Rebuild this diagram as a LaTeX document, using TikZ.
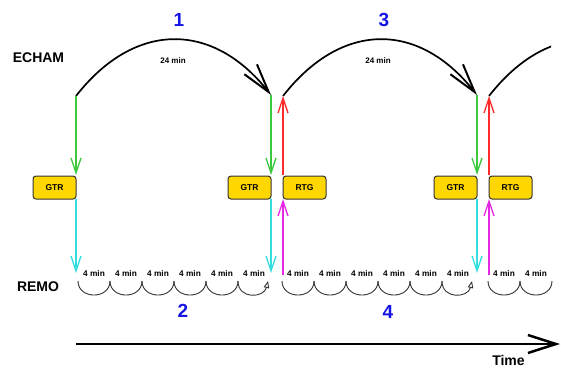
\documentclass[tikz,border=0pt]{standalone}
\usepackage{fontspec}
\setmainfont{Liberation Sans}
\usetikzlibrary{arrows.meta}
\definecolor{gold}{HTML}{FFD700}
\definecolor{boxline}{HTML}{333333}
\definecolor{numblue}{HTML}{1414E6}
\definecolor{cgreen}{HTML}{3CC83C}
\definecolor{ccyan}{HTML}{33DDE0}
\definecolor{cred}{HTML}{FF2A2A}
\definecolor{cmag}{HTML}{E628E6}
\definecolor{arcgray}{HTML}{333333}
\begin{document}
\begin{tikzpicture}[x=1pt,y=-1pt,
  lbl/.style={inner sep=0pt,font=\bfseries\fontsize{14}{16}\selectfont},
  num/.style={inner sep=0pt,font=\bfseries\fontsize{19}{21}\selectfont,text=numblue},
  mins/.style={inner sep=0pt,font=\bfseries\fontsize{8}{9}\selectfont},
  smin/.style={inner sep=0pt,font=\bfseries\fontsize{8.3}{9}\selectfont},
  box/.style={draw=boxline,fill=gold,rounded corners=3pt,line width=1pt,minimum width=43pt,minimum height=23pt,inner sep=0pt,font=\bfseries\fontsize{8.5}{10}\selectfont},
  bigarc/.style={line width=1.7pt,black},
  bigtip/.style={-{Straight Barb[length=29pt,width=16pt,line width=2pt]}},
  carrow/.style={line width=1.3pt,-{Straight Barb[length=15pt,width=10pt,line width=1.3pt]}},
  small/.style={line width=0.9pt,arcgray}
]
\useasboundingbox (0,0) rectangle (561,367);

% labels
\node[lbl] (echam) at (38.5,58) {ECHAM};
\node[lbl] (remo) at (38,287) {REMO};
\node[num] (n1) at (179,20) {1};
\node[num] (n3) at (384,20) {3};
\node[num] (n2) at (183,311) {2};
\node[num] (n4) at (388,312) {4};
\node[mins] (m1) at (173,61) {24 min};
\node[mins] (m3) at (378,61) {24 min};

% coordinates
\coordinate (e1) at (76,96);
\coordinate (e2) at (271,95);
\coordinate (e3) at (283,96);
\coordinate (e4) at (477,95);
\coordinate (e5) at (489,96);
\coordinate (r1) at (76,273);
\coordinate (r2) at (271,273);
\coordinate (r3) at (283,275);
\coordinate (r4) at (477,273);
\coordinate (r5) at (489,275);

% boxes
\node[box,anchor=north east] (g1) at (76.5,175.5) {GTR};
\node[box,anchor=north east] (g2) at (271.5,175.5) {GTR};
\node[box,anchor=north west] (t2) at (282.5,175.5) {RTG};
\node[box,anchor=north east] (g3) at (477.5,175.5) {GTR};
\node[box,anchor=north west] (t3) at (488.5,175.5) {RTG};

% big arcs
\draw[bigarc,bigtip] (e1) .. controls (134.5,21) and (212.5,21) .. (e2);
\draw[bigarc,bigtip] (e3) .. controls (341.5,21) and (418.5,21) .. (e4);
\begin{scope}
\clip (480,0) rectangle (551,120);
\draw[bigarc] (e5) .. controls (547.5,21) and (624.5,21) .. (683,96);
\end{scope}

% vertical arrows
\draw[carrow,cgreen] (e1) -- (76,175);
\draw[carrow,cgreen] (e2) -- (271,175);
\draw[carrow,cgreen] (e4) -- (477,175);
\draw[carrow,cred] (283,175) -- (e3);
\draw[carrow,cred] (489,175) -- (e5);
\draw[carrow,ccyan] (76,199) -- (r1);
\draw[carrow,ccyan] (271,199) -- (r2);
\draw[carrow,ccyan] (477,199) -- (r4);
\draw[carrow,cmag] (r3) -- (283,199);
\draw[carrow,cmag] (r5) -- (489,199);

% small arcs
\foreach \s/\n in {78/6,282/6,488/2}{
  \foreach \i in {1,...,\n}{
    \pgfmathsetmacro{\xa}{\s+32*(\i-1)}
    \pgfmathsetmacro{\xb}{\s+32*\i}
    \pgfmathsetmacro{\xc}{\s+32*(\i-1)+16}
    \node[smin] at (\xc,273.5) {4 min};
    \ifnum\i=6
      \draw[small,-{Triangle[open,length=7pt,width=5.5pt]}] (\xa,281) .. controls (\xa,299.7) and (\xb-6,298) .. (\xb-2,281);
    \else
      \draw[small] (\xa,281) .. controls (\xa,299.7) and (\xb,299.7) .. (\xb,281);
    \fi
  }
}

% time axis
\coordinate (t0) at (76,344);
\coordinate (t1) at (560,344);
\draw[line width=2.5pt,-{Straight Barb[length=28pt,width=18pt,line width=2.5pt]}] (t0) -- (t1);
\node[lbl] (time) at (508.5,360) {Time};
\end{tikzpicture}
\end{document}
